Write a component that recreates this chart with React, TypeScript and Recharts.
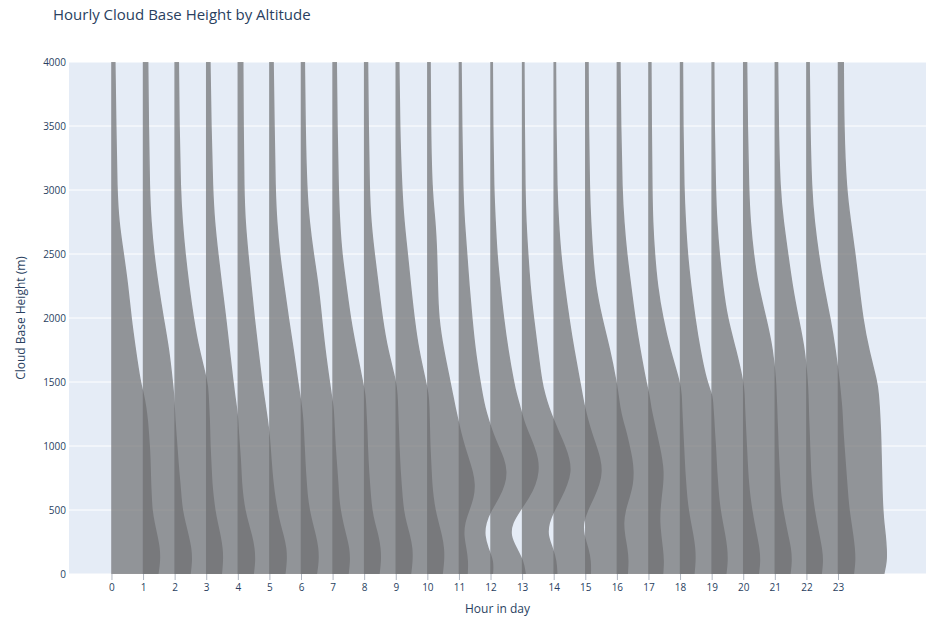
import React from 'react';
import { ComposedChart, Area, XAxis, YAxis, CartesianGrid, Label } from 'recharts';

// Heights (m) at which each hourly density profile was read
const HEIGHTS = [0, 100, 200, 300, 400, 500, 600, 700, 800, 900, 1000, 1100, 1200, 1300, 1400, 1500, 1750, 2000, 2250, 2500, 2750, 3000, 3500, 4000];

// Hour categories / x tick labels
const HOURS = [0, 1, 2, 3, 4, 5, 6, 7, 8, 9, 10, 11, 12, 13, 14, 15, 16, 17, 18, 19, 20, 21, 22, 23];

// Y tick values
const Y_TICKS = [0, 500, 1000, 1500, 2000, 2500, 3000, 3500, 4000];

// Relative density of cloud base height for each hour (one value per HEIGHTS entry)
const DENSITY_H00 = [145, 151, 150, 142, 133, 126, 124, 122, 121, 120, 118, 115, 112, 107, 100, 89, 74, 60, 50, 36, 21, 15, 12, 9];
const DENSITY_H01 = [147, 152, 150, 141, 131, 122, 118, 115, 111, 108, 105, 102, 99, 97, 95, 91, 80, 62, 46, 32, 23, 18, 15, 13];
const DENSITY_H02 = [146, 150, 149, 142, 133, 125, 120, 116, 114, 112, 110, 109, 108, 106, 104, 102, 75, 57, 43, 31, 22, 16, 12, 10];
const DENSITY_H03 = [147, 152, 150, 142, 130, 120, 114, 110, 108, 106, 103, 100, 98, 94, 88, 83, 71, 60, 47, 35, 24, 18, 13, 10];
const DENSITY_H04 = [147, 152, 151, 142, 130, 122, 115, 110, 106, 103, 100, 97, 92, 86, 80, 74, 62, 50, 40, 30, 21, 17, 15, 14];
const DENSITY_H05 = [147, 153, 152, 144, 133, 124, 118, 115, 112, 110, 108, 106, 104, 100, 94, 88, 74, 58, 44, 30, 21, 16, 13, 10];
const DENSITY_H06 = [147, 152, 150, 140, 130, 122, 117, 115, 112, 109, 106, 104, 102, 100, 94, 88, 74, 63, 53, 37, 24, 16, 11, 9];
const DENSITY_H07 = [145, 150, 149, 142, 130, 122, 118, 115, 112, 110, 108, 107, 105, 103, 101, 93, 73, 54, 41, 27, 20, 16, 12, 10];
const DENSITY_H08 = [145, 150, 150, 142, 130, 122, 118, 115, 112, 110, 108, 107, 105, 104, 102, 99, 72, 55, 43, 30, 19, 14, 11, 9];
const DENSITY_H09 = [145, 150, 150, 143, 132, 122, 116, 112, 110, 108, 106, 105, 104, 103, 101, 93, 70, 56, 45, 35, 24, 17, 10, 8];
const DENSITY_H10 = [124, 126, 120, 112, 115, 130, 144, 148, 141, 128, 115, 104, 95, 86, 78, 70, 49, 33, 30, 28, 23, 12, 8, 7];
const DENSITY_H11 = [104, 107, 90, 78, 82, 100, 125, 143, 149, 140, 122, 105, 92, 80, 72, 65, 49, 39, 30, 23, 15, 10, 7, 5];
const DENSITY_H12 = [108, 102, 80, 60, 66, 92, 120, 140, 150, 148, 135, 118, 102, 92, 80, 71, 53, 39, 28, 18, 13, 8, 5, 4];
const DENSITY_H13 = [108, 106, 95, 78, 82, 100, 122, 140, 152, 147, 133, 115, 98, 82, 70, 60, 47, 34, 23, 16, 10, 7, 5, 4];
const DENSITY_H14 = [114, 115, 107, 93, 90, 105, 125, 142, 150, 145, 132, 118, 106, 96, 88, 81, 62, 46, 32, 20, 13, 8, 5, 4];
const DENSITY_H15 = [131, 134, 130, 122, 118, 124, 137, 148, 150, 146, 137, 128, 116, 107, 102, 96, 76, 50, 30, 21, 15, 11, 8, 7];
const DENSITY_H16 = [143, 146, 142, 137, 133, 134, 138, 143, 145, 140, 132, 123, 114, 105, 100, 90, 71, 55, 42, 29, 20, 14, 10, 8];
const DENSITY_H17 = [142, 146, 145, 139, 131, 124, 119, 116, 113, 111, 109, 107, 105, 103, 102, 97, 66, 43, 26, 17, 11, 9, 7, 6];
const DENSITY_H18 = [143, 148, 146, 140, 132, 125, 120, 117, 114, 112, 110, 107, 105, 102, 100, 82, 61, 45, 32, 21, 15, 10, 7, 6];
const DENSITY_H19 = [146, 151, 148, 140, 132, 125, 119, 115, 112, 110, 108, 106, 104, 102, 101, 98, 75, 47, 33, 22, 14, 10, 6, 5];
const DENSITY_H20 = [146, 151, 148, 139, 131, 123, 117, 114, 112, 110, 108, 107, 105, 104, 102, 101, 92, 70, 45, 30, 20, 15, 11, 9];
const DENSITY_H21 = [145, 150, 146, 138, 130, 123, 117, 114, 111, 110, 108, 107, 105, 104, 103, 101, 93, 72, 53, 39, 25, 14, 9, 7];
const DENSITY_H22 = [147, 152, 150, 145, 139, 133, 129, 126, 123, 120, 117, 114, 112, 110, 106, 102, 90, 73, 52, 36, 23, 14, 9, 7];
const DENSITY_H23 = [143, 152, 151, 148, 143, 140, 138, 137, 136, 135, 134, 133, 131, 129, 126, 122, 95, 76, 64, 52, 38, 24, 16, 15];

const DENSITIES = [
  DENSITY_H00, DENSITY_H01, DENSITY_H02, DENSITY_H03, DENSITY_H04, DENSITY_H05,
  DENSITY_H06, DENSITY_H07, DENSITY_H08, DENSITY_H09, DENSITY_H10, DENSITY_H11,
  DENSITY_H12, DENSITY_H13, DENSITY_H14, DENSITY_H15, DENSITY_H16, DENSITY_H17,
  DENSITY_H18, DENSITY_H19, DENSITY_H20, DENSITY_H21, DENSITY_H22, DENSITY_H23,
];

// density units -> violin half-width in hours
const WIDTH_PER_DENSITY = 0.01;

const rows = HEIGHTS.map((h, i) => {
  const r: Record<string, any> = { h };
  HOURS.forEach((hr, k) => {
    r['v' + hr] = [hr, hr + DENSITIES[k][i] * WIDTH_PER_DENSITY];
  });
  return r;
});

const FONT = "'Open Sans', verdana, arial, sans-serif";
const TEXT = '#2a3f5f';

const YTitle = (props: any) => {
  const vb = props.viewBox || {};
  const cx = 20;
  const cy = (vb.y || 0) + (vb.height || 0) / 2;
  return (
    <text
      x={cx}
      y={cy}
      transform={`rotate(-90, ${cx}, ${cy})`}
      textAnchor="middle"
      dominantBaseline="central"
      fontFamily={FONT}
      fontSize={12}
      fill={TEXT}
    >
      Cloud Base Height (m)
    </text>
  );
};

export default function App() {
  return (
    <div style={{ position: 'absolute', left: 0, top: 0, width: 929, height: 623, background: '#fff', fontFamily: FONT }}>
      <style>{`.violin { opacity: 0.7; }`}</style>
      <div style={{ position: 'absolute', left: 53, top: 4, fontSize: 15, color: TEXT, fontFamily: FONT, whiteSpace: 'nowrap' }}>
        Hourly Cloud Base Height by Altitude
      </div>
      <ComposedChart
        width={929}
        height={623}
        data={rows}
        layout="vertical"
        margin={{ top: 62, right: 3, bottom: 0, left: 0 }}
      >
        <CartesianGrid vertical={false} stroke="#ffffff" strokeWidth={1} fill="#E5ECF6" fillOpacity={1} />
        <XAxis
          type="number"
          domain={[-1.36, 25.77]}
          allowDataOverflow
          ticks={HOURS}
          interval={0}
          height={49}
          axisLine={false}
          tickLine={{ stroke: '#b0b6c0' }}
          tickSize={6}
          tickMargin={4}
          tick={{ fontSize: 10, fill: TEXT, fontFamily: FONT }}
        >
          <Label value="Hour in day" position="insideBottom" offset={10} fill={TEXT} fontSize={12} fontFamily={FONT} />
        </XAxis>
        <YAxis
          type="number"
          dataKey="h"
          domain={[0, 4000]}
          allowDataOverflow
          ticks={Y_TICKS}
          interval={0}
          reversed
          width={69}
          axisLine={false}
          tickLine={false}
          tickSize={0}
          tickMargin={3}
          tick={{ fontSize: 10, fill: TEXT, fontFamily: FONT }}
          label={{ content: YTitle }}
        />
        {HOURS.map((hr) => (
          <Area
            key={hr}
            className="violin"
            dataKey={'v' + hr}
            type="basis"
            fill="#6e6f71"
            fillOpacity={1}
            stroke="#6e6f71"
            strokeWidth={1.5}
            dot={false}
            activeDot={false}
            isAnimationActive={false}
          />
        ))}
      </ComposedChart>
    </div>
  );
}
